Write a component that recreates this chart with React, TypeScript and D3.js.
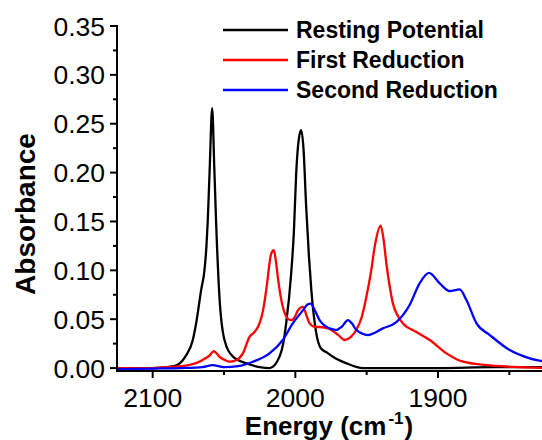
import React from "react";
import * as d3 from "d3";

const blackE = [2125, 2100, 2085, 2077, 2072, 2069.5, 2066, 2063.7, 2062.3, 2061.4, 2060, 2058.3, 2056.8, 2055.5, 2053.2, 2049.7, 2043.9, 2034.5, 2025, 2018, 2011, 2008.5, 2006.4, 2002.9, 2001, 1999.4, 1997.5, 1995.9, 1994.3, 1992.4, 1990.5, 1988.8, 1985.3, 1982, 1978, 1973.7, 1964.3, 1952.6, 1900, 1860, 1825];
const blackA = [0, 0, 0.002, 0.012, 0.028, 0.046, 0.08, 0.1, 0.125, 0.15, 0.205, 0.266, 0.205, 0.148, 0.073, 0.029, 0.012, 0.005, 0.001, 0, 0.012, 0.025, 0.046, 0.097, 0.14, 0.199, 0.235, 0.2435, 0.225, 0.165, 0.115, 0.08, 0.0355, 0.02, 0.016, 0.0115, 0.005, 0, 0, 0.001, 0.001];

const redE = [2125, 2100, 2088, 2075, 2069.5, 2063, 2060, 2057.2, 2053.2, 2049, 2046.2, 2041.5, 2036.8, 2032.1, 2028.6, 2025.1, 2022.5, 2020.4, 2016.9, 2015.1, 2013.5, 2012.3, 2008.8, 2005.5, 2002.9, 2000.5, 1998.2, 1994.7, 1992, 1990, 1986, 1983, 1976, 1970, 1965.5, 1961, 1957.3, 1953.5, 1950.2, 1947, 1944.4, 1940.2, 1938, 1936.2, 1934, 1931.6, 1928, 1924.6, 1915.2, 1905.8, 1894.1, 1882.5, 1866, 1847.4, 1825];
const redA = [0, 0, 0.001, 0.003, 0.005, 0.01, 0.013, 0.0174, 0.0116, 0.008, 0.0065, 0.008, 0.015, 0.032, 0.037, 0.0457, 0.06, 0.08, 0.117, 0.1207, 0.108, 0.0934, 0.0627, 0.051, 0.049, 0.052, 0.059, 0.0627, 0.053, 0.0457, 0.042, 0.042, 0.04, 0.034, 0.0287, 0.032, 0.039, 0.052, 0.073, 0.098, 0.124, 0.1456, 0.13, 0.107, 0.085, 0.066, 0.053, 0.0457, 0.037, 0.0287, 0.015, 0.0065, 0.003, 0.0013, 0];

const blueE = [2125, 2100, 2080, 2065, 2058, 2050, 2040, 2029.8, 2018.1, 2008.8, 2001.8, 1994.7, 1991.5, 1989.3, 1986, 1983, 1976, 1971.5, 1967, 1963.2, 1960, 1957.3, 1949.1, 1938.6, 1929.2, 1919.9, 1912.9, 1906.3, 1898.8, 1891.8, 1887, 1884.8, 1880.1, 1873, 1863.7, 1849.7, 1835.7, 1825];
const blueA = [-0.001, -0.0005, 0, 0.001, 0.003, 0.001, 0.002, 0.0065, 0.015, 0.0287, 0.0457, 0.059, 0.065, 0.066, 0.058, 0.049, 0.0406, 0.039, 0.043, 0.049, 0.045, 0.039, 0.0338, 0.0406, 0.047, 0.0645, 0.0867, 0.0975, 0.0867, 0.0788, 0.08, 0.0805, 0.0696, 0.0457, 0.0338, 0.0184, 0.0099, 0.0065];

const seriesNames = ["Resting Potential", "First Reduction", "Second Reduction"];
const seriesColors = ["#000000", "#ff0000", "#0000ff"];
const xTicks = [2100, 2000, 1900];
const xMinorTicks = [2050, 1950, 1850];
const yTicks = [0, 0.05, 0.1, 0.15, 0.2, 0.25, 0.3, 0.35];
const yMinorTicks = [0.025, 0.075, 0.125, 0.175, 0.225, 0.275, 0.325];

const L = 117, R = 545, T = 26, B = 371;
const FONT = "'Liberation Sans', Arial, sans-serif";

export default function App() {
  const x = d3.scaleLinear().domain([2125, 1825]).range([L, R]);
  const y = d3.scaleLinear().domain([-0.003, 0.35]).range([B, T]);
  const line = d3
    .line<[number, number]>()
    .x((d) => x(d[0]))
    .y((d) => y(d[1]))
    .curve(d3.curveMonotoneX);
  const series = [
    blackE.map((e, i) => [e, blackA[i]] as [number, number]),
    redE.map((e, i) => [e, redA[i]] as [number, number]),
    blueE.map((e, i) => [e, blueA[i]] as [number, number]),
  ];
  return (
    <svg
      width={542}
      height={440}
      style={{ position: "absolute", left: 0, top: 0, background: "#fff" }}
      fontFamily={FONT}
    >
      <defs>
        <clipPath id="plot">
          <rect x={L} y={T - 5} width={542 - L} height={B - T + 5} />
        </clipPath>
      </defs>
      <g clipPath="url(#plot)">
        {series.map((s, i) => (
          <path key={i} d={line(s) || ""} fill="none" stroke={seriesColors[i]} strokeWidth={2.3} strokeLinejoin="round" />
        ))}
      </g>
      <line x1={L} x2={L} y1={T - 1} y2={B + 1} stroke="#000" strokeWidth={2} />
      <line x1={L - 1} x2={542} y1={B} y2={B} stroke="#000" strokeWidth={2} />
      {yTicks.map((t) => (
        <g key={"y" + t}>
          <line x1={L - 7} x2={L} y1={y(t)} y2={y(t)} stroke="#000" strokeWidth={2} />
          <text x={L - 12} y={y(t)} dy="0.36em" textAnchor="end" fontSize={26.5}>
            {t.toFixed(2)}
          </text>
        </g>
      ))}
      {yMinorTicks.map((t) => (
        <line key={"ym" + t} x1={L - 4} x2={L} y1={y(t)} y2={y(t)} stroke="#000" strokeWidth={2} />
      ))}
      {xTicks.map((t) => (
        <g key={"x" + t}>
          <line x1={x(t)} x2={x(t)} y1={B} y2={B + 7} stroke="#000" strokeWidth={2} />
          <text x={x(t)} y={407} textAnchor="middle" fontSize={26.5}>
            {t}
          </text>
        </g>
      ))}
      {xMinorTicks.map((t) => (
        <line key={"xm" + t} x1={x(t)} x2={x(t)} y1={B} y2={B + 4} stroke="#000" strokeWidth={2} />
      ))}
      <text x={329} y={435} textAnchor="middle" fontSize={26} fontWeight="bold">
        Energy (cm
        <tspan fontSize={17} dx={2} dy={-11}>-1</tspan>
        <tspan dx={1} dy={11}>)</tspan>
      </text>
      <text
        transform={`translate(35,214) rotate(-90)`}
        textAnchor="middle"
        fontSize={28}
        fontWeight="bold"
      >
        Absorbance
      </text>
      {seriesNames.map((n, i) => (
        <g key={n}>
          <line x1={223} x2={288} y1={30 + i * 30} y2={30 + i * 30} stroke={seriesColors[i]} strokeWidth={2.3} />
          <text x={296} y={37.8 + i * 30} fontSize={23} fontWeight="bold">
            {n}
          </text>
        </g>
      ))}
    </svg>
  );
}
